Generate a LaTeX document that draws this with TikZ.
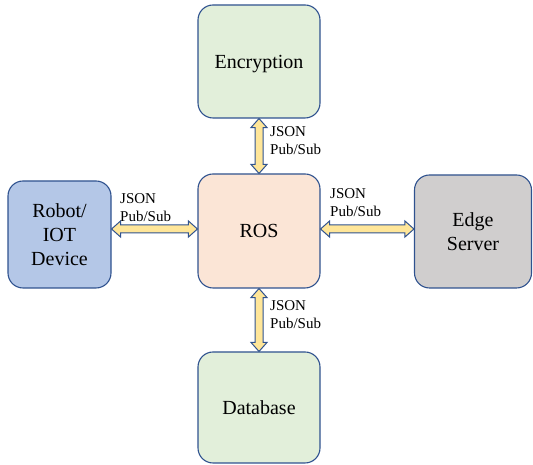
\documentclass[tikz,border=0pt]{standalone}
\usepackage{fontspec}
\setmainfont{Liberation Serif}
\newfontfamily\timesfam{Liberation Serif}
\usetikzlibrary{calc}
\definecolor{edgeblue}{RGB}{47,82,143}
\definecolor{greenfill}{RGB}{226,239,218}
\definecolor{peachfill}{RGB}{251,229,214}
\definecolor{bluefill}{RGB}{180,199,231}
\definecolor{greyfill}{RGB}{208,206,206}
\definecolor{arrowfill}{RGB}{255,230,153}
\tikzset{
  box/.style={draw=edgeblue, line width=1.1pt, rounded corners=15pt,
    minimum width=#1, inner sep=0pt, align=center, text depth=0pt,
    font=\timesfam\fontsize{20}{24}\selectfont},
  fat/.style={draw=edgeblue, fill=arrowfill, line width=1pt, line join=miter},
  lbl/.style={anchor=north west, align=left, inner sep=0pt,
    font=\timesfam\fontsize{15}{18.5}\selectfont}
}
\begin{document}
\begin{tikzpicture}[x=1pt,y=1pt]
\useasboundingbox (0,0) rectangle (533,465);
% components
\node[box=122pt, minimum height=113pt, fill=greenfill] (enc) at (259,403.5) {Encryption};
\node[box=122pt, minimum height=114pt, fill=peachfill] (ros) at (259,234) {ROS};
\node[box=122pt, minimum height=111pt, fill=greenfill] (db) at (259,57.5) {Database};
\node[box=103pt, minimum height=107pt, fill=bluefill] (rob) at (59.5,230.5) {Robot/\\IOT\\Device};
\node[box=117pt, minimum height=113pt, fill=greyfill] (edge) at (473,233.5) {Edge\\Server};
% double-headed block arrows
\draw[fat] let \p1=(enc.south), \p2=(ros.north) in
  (\p1) -- (\x1+8pt,\y1-9pt) -- (\x1+4pt,\y1-9pt) -- (\x1+4pt,\y2+9pt)
  -- (\x1+8pt,\y2+9pt) -- (\x1,\y2) -- (\x1-8pt,\y2+9pt) -- (\x1-4pt,\y2+9pt)
  -- (\x1-4pt,\y1-9pt) -- (\x1-8pt,\y1-9pt) -- cycle;
\draw[fat] let \p1=(ros.south), \p2=(db.north) in
  (\p1) -- (\x1+8pt,\y1-9pt) -- (\x1+4pt,\y1-9pt) -- (\x1+4pt,\y2+9pt)
  -- (\x1+8pt,\y2+9pt) -- (\x1,\y2) -- (\x1-8pt,\y2+9pt) -- (\x1-4pt,\y2+9pt)
  -- (\x1-4pt,\y1-9pt) -- (\x1-8pt,\y1-9pt) -- cycle;
\draw[fat] let \p1=(rob.east), \p2=(ros.west) in
  (\x1,\y2+2pt) -- (\x1+9pt,\y2+10pt) -- (\x1+9pt,\y2+6pt) -- (\x2-9pt,\y2+6pt)
  -- (\x2-9pt,\y2+10pt) -- (\x2,\y2+2pt) -- (\x2-9pt,\y2-6pt) -- (\x2-9pt,\y2-2pt)
  -- (\x1+9pt,\y2-2pt) -- (\x1+9pt,\y2-6pt) -- cycle;
\draw[fat] let \p1=(ros.east), \p2=(edge.west) in
  (\x1,\y1+2pt) -- (\x1+9pt,\y1+10pt) -- (\x1+9pt,\y1+6pt) -- (\x2-9pt,\y1+6pt)
  -- (\x2-9pt,\y1+10pt) -- (\x2,\y1+2pt) -- (\x2-9pt,\y1-6pt) -- (\x2-9pt,\y1-2pt)
  -- (\x1+9pt,\y1-2pt) -- (\x1+9pt,\y1-6pt) -- cycle;
% message labels
\node[lbl] (ltop) at (270,339) {JSON\\Pub/Sub};
\node[lbl] (lleft) at (120,272) {JSON\\Pub/Sub};
\node[lbl] (lright) at (330,277) {JSON\\Pub/Sub};
\node[lbl] (lbot) at (270,165) {JSON\\Pub/Sub};
\end{tikzpicture}
\end{document}
